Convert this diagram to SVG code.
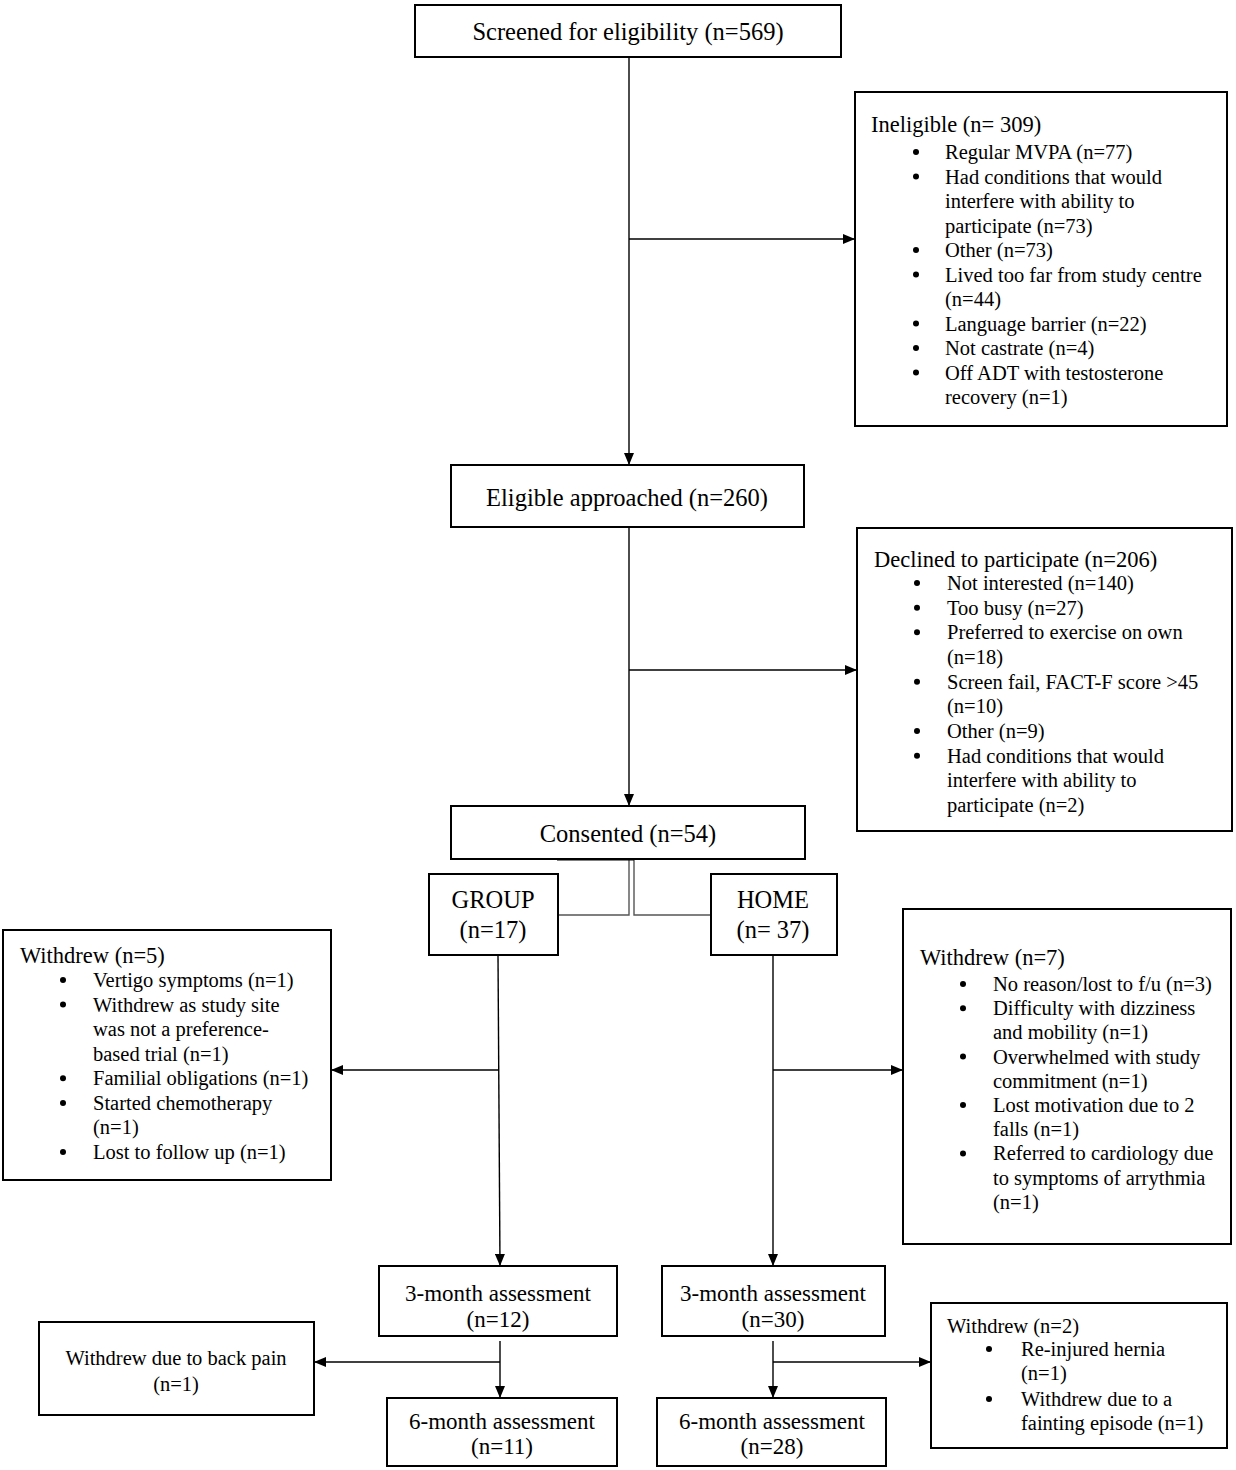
<svg xmlns="http://www.w3.org/2000/svg" width="1236" height="1470" viewBox="0 0 1236 1470">
<style>
text{font-family:"Liberation Serif","Times New Roman",serif;fill:#000}
.box{fill:#fff;stroke:#000;stroke-width:2}
.m{font-size:24.5px;text-anchor:middle}
.a{font-size:23px;text-anchor:middle}
.t{font-size:22.5px}
.i{font-size:20.5px}
.ic{font-size:20.5px;text-anchor:middle}
.ln{stroke:#000;stroke-width:1.4;fill:none}
.gl{stroke:#555;stroke-width:1.4;fill:none}
.b{fill:#000}
</style>
<defs>
<marker id="ar" viewBox="0 0 12 10" refX="12" refY="5" markerWidth="12" markerHeight="10" markerUnits="userSpaceOnUse" orient="auto">
<path d="M0,0 L12,5 L0,10 Z" fill="#000"/>
</marker>
</defs>
<rect width="1236" height="1470" fill="#fff"/>
<g id="connectors">
<line class="ln" x1="629" y1="57" x2="629" y2="465" marker-end="url(#ar)"/>
<line class="ln" x1="629" y1="239" x2="855" y2="239" marker-end="url(#ar)"/>
<line class="ln" x1="629" y1="527" x2="629" y2="806" marker-end="url(#ar)"/>
<line class="ln" x1="629" y1="670" x2="857" y2="670" marker-end="url(#ar)"/>
<polyline class="gl" points="629,859 629,915 558,915"/>
<polyline class="gl" points="634,859 634,915 711,915"/>
<line x1="557" y1="859" x2="634" y2="859" stroke="#000" stroke-width="3"/>
<line class="ln" x1="498" y1="955" x2="500" y2="1266" marker-end="url(#ar)"/>
<line class="ln" x1="499" y1="1070" x2="331" y2="1070" marker-end="url(#ar)"/>
<line class="ln" x1="773" y1="955" x2="773" y2="1266" marker-end="url(#ar)"/>
<line class="ln" x1="773" y1="1070" x2="903" y2="1070" marker-end="url(#ar)"/>
<line class="ln" x1="500" y1="1341" x2="500" y2="1398" marker-end="url(#ar)"/>
<line class="ln" x1="500" y1="1362" x2="314" y2="1362" marker-end="url(#ar)"/>
<line class="ln" x1="773" y1="1341" x2="773" y2="1398" marker-end="url(#ar)"/>
<line class="ln" x1="773" y1="1362" x2="931" y2="1362" marker-end="url(#ar)"/>
</g>
<g id="screened">
<rect class="box" x="415" y="5" width="426" height="52"/>
<text class="m" x="628" y="40">Screened for eligibility (n=569)</text>
</g>
<g id="ineligible">
<rect class="box" x="855" y="92" width="372" height="334"/>
<text class="t" x="871" y="132">Ineligible (n= 309)</text>
<circle class="b" cx="916" cy="152" r="3"/><text class="i" x="945" y="159">Regular MVPA (n=77)</text>
<circle class="b" cx="916" cy="176.5" r="3"/><text class="i" x="945" y="183.5">Had conditions that would</text>
<text class="i" x="945" y="208">interfere with ability to</text>
<text class="i" x="945" y="232.5">participate (n=73)</text>
<circle class="b" cx="916" cy="250" r="3"/><text class="i" x="945" y="257">Other (n=73)</text>
<circle class="b" cx="916" cy="274.5" r="3"/><text class="i" x="945" y="281.5">Lived too far from study centre</text>
<text class="i" x="945" y="306">(n=44)</text>
<circle class="b" cx="916" cy="323.5" r="3"/><text class="i" x="945" y="330.5">Language barrier (n=22)</text>
<circle class="b" cx="916" cy="348" r="3"/><text class="i" x="945" y="355">Not castrate (n=4)</text>
<circle class="b" cx="916" cy="372.5" r="3"/><text class="i" x="945" y="379.5">Off ADT with testosterone</text>
<text class="i" x="945" y="404">recovery (n=1)</text>
</g>
<g id="eligible">
<rect class="box" x="451" y="465" width="353" height="62"/>
<text class="m" x="627" y="506">Eligible approached (n=260)</text>
</g>
<g id="declined">
<rect class="box" x="857" y="528" width="375" height="303"/>
<text class="t" x="874" y="566.5">Declined to participate (n=206)</text>
<circle class="b" cx="917" cy="583" r="3"/><text class="i" x="947" y="590">Not interested (n=140)</text>
<circle class="b" cx="917" cy="607.7" r="3"/><text class="i" x="947" y="614.7">Too busy (n=27)</text>
<circle class="b" cx="917" cy="632.3" r="3"/><text class="i" x="947" y="639.3">Preferred to exercise on own</text>
<text class="i" x="947" y="664">(n=18)</text>
<circle class="b" cx="917" cy="681.7" r="3"/><text class="i" x="947" y="688.7">Screen fail, FACT-F score &gt;45</text>
<text class="i" x="947" y="713.3">(n=10)</text>
<circle class="b" cx="917" cy="731" r="3"/><text class="i" x="947" y="738">Other (n=9)</text>
<circle class="b" cx="917" cy="755.7" r="3"/><text class="i" x="947" y="762.7">Had conditions that would</text>
<text class="i" x="947" y="787.3">interfere with ability to</text>
<text class="i" x="947" y="812">participate (n=2)</text>
</g>
<g id="consented">
<rect class="box" x="451" y="806" width="354" height="53"/>
<text class="m" x="628" y="842">Consented (n=54)</text>
</g>
<g id="group">
<rect class="box" x="429" y="874" width="129" height="81"/>
<text class="m" x="493" y="908">GROUP</text>
<text class="m" x="493" y="938">(n=17)</text>
</g>
<g id="home">
<rect class="box" x="711" y="874" width="126" height="81"/>
<text class="m" x="773" y="908">HOME</text>
<text class="m" x="773" y="938">(n= 37)</text>
</g>
<g id="withdrew5">
<rect class="box" x="3" y="930" width="328" height="250"/>
<text class="t" x="20" y="962.5">Withdrew (n=5)</text>
<circle class="b" cx="63" cy="980" r="3"/><text class="i" x="93" y="987">Vertigo symptoms (n=1)</text>
<circle class="b" cx="63" cy="1004.6" r="3"/><text class="i" x="93" y="1011.6">Withdrew as study site</text>
<text class="i" x="93" y="1036.1">was not a preference-</text>
<text class="i" x="93" y="1060.7">based trial (n=1)</text>
<circle class="b" cx="63" cy="1078.3" r="3"/><text class="i" x="93" y="1085.3">Familial obligations (n=1)</text>
<circle class="b" cx="63" cy="1102.9" r="3"/><text class="i" x="93" y="1109.9">Started chemotherapy</text>
<text class="i" x="93" y="1134.4">(n=1)</text>
<circle class="b" cx="63" cy="1152" r="3"/><text class="i" x="93" y="1159">Lost to follow up (n=1)</text>
</g>
<g id="withdrew7">
<rect class="box" x="903" y="909" width="328" height="335"/>
<text class="t" x="920" y="964.5">Withdrew (n=7)</text>
<circle class="b" cx="963" cy="984" r="3"/><text class="i" x="993" y="991">No reason/lost to f/u (n=3)</text>
<circle class="b" cx="963" cy="1008.2" r="3"/><text class="i" x="993" y="1015.2">Difficulty with dizziness</text>
<text class="i" x="993" y="1039.4">and mobility (n=1)</text>
<circle class="b" cx="963" cy="1056.6" r="3"/><text class="i" x="993" y="1063.6">Overwhelmed with study</text>
<text class="i" x="993" y="1087.8">commitment (n=1)</text>
<circle class="b" cx="963" cy="1105" r="3"/><text class="i" x="993" y="1112">Lost motivation due to 2</text>
<text class="i" x="993" y="1136.2">falls (n=1)</text>
<circle class="b" cx="963" cy="1153.4" r="3"/><text class="i" x="993" y="1160.4">Referred to cardiology due</text>
<text class="i" x="993" y="1184.6">to symptoms of arrythmia</text>
<text class="i" x="993" y="1208.8">(n=1)</text>
</g>
<g id="group3m">
<rect class="box" x="379" y="1266" width="238" height="70"/>
<text class="a" x="498" y="1300.5">3-month assessment</text>
<text class="a" x="498" y="1326.5">(n=12)</text>
</g>
<g id="home3m">
<rect class="box" x="662" y="1266" width="223" height="70"/>
<text class="a" x="773" y="1300.5">3-month assessment</text>
<text class="a" x="773" y="1326.5">(n=30)</text>
</g>
<g id="backpain">
<rect class="box" x="39" y="1322" width="275" height="93"/>
<text class="ic" x="176" y="1365">Withdrew due to back pain</text>
<text class="ic" x="176" y="1391">(n=1)</text>
</g>
<g id="group6m">
<rect class="box" x="387" y="1398" width="230" height="68"/>
<text class="a" x="502" y="1428.5">6-month assessment</text>
<text class="a" x="502" y="1453.5">(n=11)</text>
</g>
<g id="home6m">
<rect class="box" x="657" y="1398" width="229" height="68"/>
<text class="a" x="772" y="1428.5">6-month assessment</text>
<text class="a" x="772" y="1453.5">(n=28)</text>
</g>
<g id="withdrew2">
<rect class="box" x="931" y="1303" width="296" height="145"/>
<text class="i" x="947" y="1333">Withdrew (n=2)</text>
<circle class="b" cx="989" cy="1349" r="3"/><text class="i" x="1021" y="1356">Re-injured hernia</text>
<text class="i" x="1021" y="1380">(n=1)</text>
<circle class="b" cx="989" cy="1399" r="3"/><text class="i" x="1021" y="1406">Withdrew due to a</text>
<text class="i" x="1021" y="1430">fainting episode (n=1)</text>
</g>
</svg>
